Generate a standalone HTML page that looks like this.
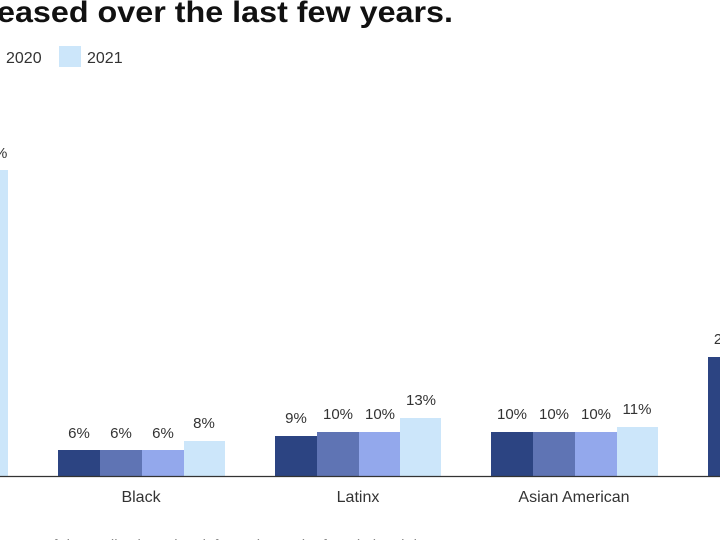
<!DOCTYPE html>
<html><head><style>
html,body{margin:0;padding:0;background:#fff;width:720px;height:540px;overflow:hidden;font-family:"Liberation Sans",sans-serif;}
</style></head><body>
<svg width="720" height="540" xmlns="http://www.w3.org/2000/svg" font-family="Liberation Sans, sans-serif">
<text x="-3" y="22" font-size="30" font-weight="bold" fill="#111" textLength="456" lengthAdjust="spacingAndGlyphs">eased over the last few years.</text>
<text x="6" y="63" font-size="16" fill="#333">2020</text>
<rect x="59" y="46" width="22" height="21" fill="#cce6fa"/>
<text x="87" y="63" font-size="16" fill="#333">2021</text>
<rect x="0" y="170" width="8" height="306" fill="#cce6fa"/>
<text x="-6" y="158" font-size="15" fill="#333">%</text>
<g fill="#2c4482"><rect x="58" y="450" width="42" height="26"/><rect x="275" y="436" width="42" height="40"/><rect x="491" y="432" width="42" height="44"/><rect x="708" y="357" width="20" height="119"/></g>
<g fill="#5f74b4"><rect x="100" y="450" width="42" height="26"/><rect x="317" y="432" width="42" height="44"/><rect x="533" y="432" width="42" height="44"/></g>
<g fill="#93a8ec"><rect x="142" y="450" width="42" height="26"/><rect x="359" y="432" width="41" height="44"/><rect x="575" y="432" width="42" height="44"/></g>
<g fill="#cce6fa"><rect x="184" y="441" width="41" height="35"/><rect x="400" y="418" width="41" height="58"/><rect x="617" y="427" width="41" height="49"/></g>
<line x1="0" y1="476.5" x2="720" y2="476.5" stroke="#333" stroke-width="1.2"/>
<g font-size="15" fill="#333" text-anchor="middle">
<text x="79" y="438">6%</text><text x="121" y="438">6%</text><text x="163" y="438">6%</text><text x="204" y="428">8%</text>
<text x="296" y="423">9%</text><text x="338" y="419">10%</text><text x="380" y="419">10%</text><text x="421" y="405">13%</text>
<text x="512" y="419">10%</text><text x="554" y="419">10%</text><text x="596" y="419">10%</text><text x="637" y="414">11%</text>
<text x="718" y="344">2</text>
</g>
<g font-size="16" fill="#333" text-anchor="middle">
<text x="141" y="502">Black</text><text x="358" y="502">Latinx</text><text x="574" y="502">Asian American</text>
</g>
<text x="45" y="550" font-size="15" fill="#888">of data collection: Liaut information ... the foundational dat</text>
</svg>
</body></html>
